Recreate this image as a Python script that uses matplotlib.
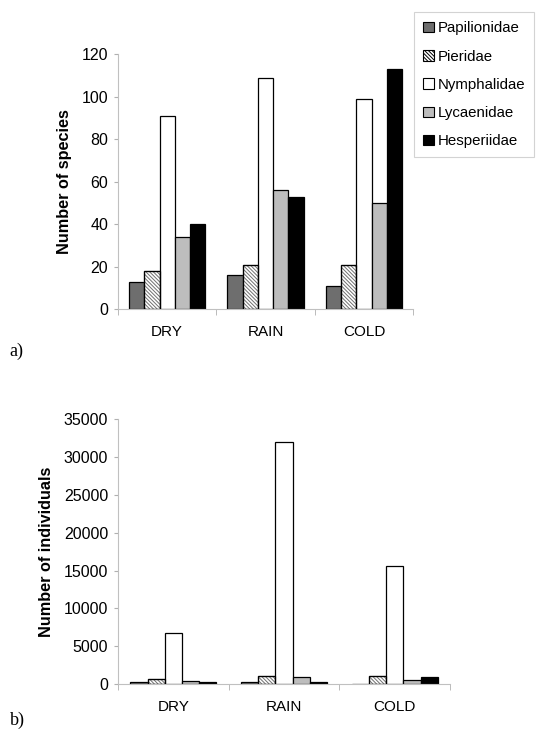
import numpy as np
import matplotlib.pyplot as plt
from matplotlib.patches import Patch

plt.rcParams['font.family'] = ['Liberation Sans', 'DejaVu Sans']
plt.rcParams['hatch.linewidth'] = 0.7

#data#########################################################################
seasons = ['DRY', 'RAIN', 'COLD']
families = ['Papilionidae', 'Pieridae', 'Nymphalidae', 'Lycaenidae', 'Hesperiidae']

#number of species per family, per season (DRY, RAIN, COLD)
species_pap = [13, 16, 11]
species_pie = [18, 21, 21]
species_nym = [91, 109, 99]
species_lyc = [34, 56, 50]
species_hes = [40, 53, 113]

#number of individuals per family, per season
indiv_pap = [250, 250, 100]
indiv_pie = [750, 1050, 1050]
indiv_nym = [6800, 32000, 15600]
indiv_lyc = [450, 950, 600]
indiv_hes = [350, 300, 950]

#styling per family
facecolors = ['#6e6e6e', 'white', 'white', '#bdbdbd', 'black']
hatches = [None, '\\' * 9, None, None, None]
hatchcol = '#707070'

fig = plt.figure(figsize=(5.36, 7.29), dpi=100)
ax_a = fig.add_axes([0.220, 0.5757, 0.551, 0.350])
ax_b = fig.add_axes([0.220, 0.0613, 0.620, 0.364])

x = np.arange(len(seasons))
width = 0.155

def draw_panel(ax, series, ymax, ystep, ylabel):
    for k, vals in enumerate(series):
        pos = x + (k - 2) * width
        bars = ax.bar(pos, vals, width, color=facecolors[k], edgecolor='black',
                      linewidth=0.9, label=families[k], zorder=2)
        if hatches[k] is not None:
            for b in bars:
                b.set_hatch(hatches[k])
                b.set_edgecolor(hatchcol)
            #redraw the black outline over the hatch
            ax.bar(pos, vals, width, color='none', edgecolor='black',
                   linewidth=0.9, zorder=3)
    ax.set_xlim(-0.5, len(seasons) - 0.5)
    ax.set_ylim(0, ymax)
    ax.set_yticks(np.arange(0, ymax + 1, ystep))
    ax.set_xticks(x)
    ax.set_xticklabels(seasons, fontsize=11)
    ax.set_xticks(np.arange(-0.5, len(seasons)), minor=True)
    ax.tick_params(axis='x', which='major', length=0, pad=11)
    ax.tick_params(axis='x', which='minor', length=4, color='#b0b0b0', direction='out')
    ax.tick_params(axis='y', length=3, color='#b0b0b0', labelsize=11.5, pad=4)
    for s in ['top', 'right']:
        ax.spines[s].set_visible(False)
    for s in ['left', 'bottom']:
        ax.spines[s].set_color('#c0c0c0')
        ax.spines[s].set_linewidth(0.8)
    ax.set_ylabel(ylabel, fontsize=11.7, fontweight='bold', labelpad=7)

draw_panel(ax_a, [species_pap, species_pie, species_nym, species_lyc, species_hes],
           120, 20, 'Number of species')
draw_panel(ax_b, [indiv_pap, indiv_pie, indiv_nym, indiv_lyc, indiv_hes],
           35000, 5000, 'Number of individuals')

#legend built from proxy patches so the hatch reads well
handles = []
for k in range(len(families)):
    handles.append(Patch(facecolor=facecolors[k], edgecolor='black', linewidth=0.8,
                         hatch=hatches[k], label=families[k]))
leg = fig.legend(handles=handles, loc='upper left', bbox_to_anchor=(0.773, 0.983),
                 fontsize=10.8, frameon=True, fancybox=False, edgecolor='#c8c8c8',
                 handlelength=0.7, handleheight=0.7, handletextpad=0.25,
                 labelspacing=0.95, borderpad=0.6, borderaxespad=0)
leg.get_frame().set_linewidth(0.8)

fig.text(0.018, 0.512, 'a)', fontsize=13, family=['Liberation Serif', 'DejaVu Serif'])
fig.text(0.018, 0.006, 'b)', fontsize=13, family=['Liberation Serif', 'DejaVu Serif'])

fig.savefig('out.png', dpi=100)
